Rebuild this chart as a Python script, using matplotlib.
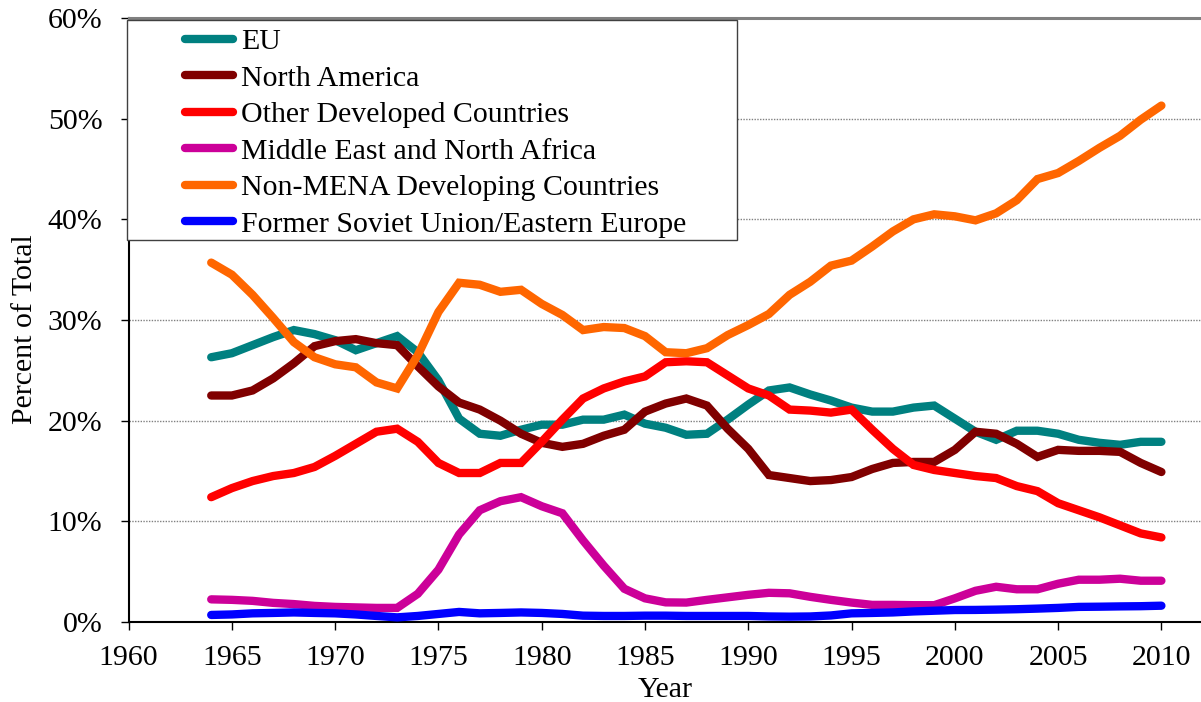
import matplotlib
matplotlib.use("Agg")
import matplotlib.pyplot as plt
from matplotlib.patches import Rectangle
from matplotlib.ticker import FuncFormatter

years = list(range(1964, 2011))

eu = [26.3, 26.7, 27.5, 28.3, 29.0, 28.6, 28.0, 27.0, 27.7, 28.4,
      26.8, 24.0, 20.2, 18.7, 18.5, 19.1, 19.6, 19.6, 20.1, 20.1,
      20.6, 19.7, 19.3, 18.6, 18.7, 20.1, 21.6, 23.0, 23.3, 22.6,
      22.0, 21.3, 20.9, 20.9, 21.3, 21.5, 20.2, 18.9, 18.1, 19.0,
      19.0, 18.7, 18.1, 17.8, 17.6, 17.9, 17.9]

north_america = [22.5, 22.5, 23.0, 24.2, 25.7, 27.4, 27.9, 28.1, 27.7, 27.5,
                 25.4, 23.4, 21.8, 21.1, 20.0, 18.7, 17.8, 17.4, 17.7, 18.5,
                 19.1, 20.9, 21.7, 22.2, 21.5, 19.2, 17.2, 14.6, 14.3, 14.0,
                 14.1, 14.4, 15.2, 15.8, 15.9, 15.9, 17.1, 18.9, 18.7, 17.7,
                 16.4, 17.1, 17.0, 17.0, 16.9, 15.8, 14.9]

other_developed = [12.4, 13.3, 14.0, 14.5, 14.8, 15.4, 16.5, 17.7, 18.9, 19.2,
                   17.9, 15.8, 14.8, 14.8, 15.8, 15.8, 17.9, 20.1, 22.2, 23.2,
                   23.9, 24.4, 25.8, 25.9, 25.8, 24.5, 23.2, 22.5, 21.1, 21.0,
                   20.8, 21.1, 19.1, 17.2, 15.6, 15.1, 14.8, 14.5, 14.3, 13.5,
                   13.0, 11.8, 11.1, 10.4, 9.6, 8.8, 8.4]

mena = [2.25, 2.2, 2.1, 1.9, 1.78, 1.6, 1.5, 1.45, 1.4, 1.4,
        2.8, 5.2, 8.7, 11.1, 12.0, 12.4, 11.5, 10.8, 8.1, 5.6,
        3.3, 2.35, 1.95, 1.93, 2.2, 2.45, 2.7, 2.9, 2.85, 2.5,
        2.2, 1.93, 1.7, 1.7, 1.67, 1.67, 2.35, 3.1, 3.5, 3.25,
        3.25, 3.8, 4.2, 4.2, 4.3, 4.1, 4.1]

non_mena = [35.7, 34.5, 32.5, 30.2, 27.8, 26.3, 25.6, 25.3, 23.8, 23.2,
            26.5, 30.8, 33.7, 33.5, 32.8, 33.0, 31.6, 30.5, 29.0, 29.3,
            29.2, 28.4, 26.8, 26.7, 27.2, 28.5, 29.5, 30.6, 32.5, 33.8,
            35.4, 35.9, 37.3, 38.8, 40.0, 40.5, 40.3, 39.9, 40.6, 41.9,
            44.0, 44.6, 45.8, 47.1, 48.3, 49.9, 51.3]

fsu = [0.7, 0.75, 0.86, 0.9, 0.95, 0.9, 0.86, 0.75, 0.6, 0.46,
       0.6, 0.8, 1.0, 0.86, 0.9, 0.95, 0.9, 0.8, 0.63, 0.6,
       0.6, 0.63, 0.63, 0.6, 0.6, 0.6, 0.6, 0.55, 0.53, 0.55,
       0.65, 0.86, 0.9, 0.95, 1.05, 1.12, 1.19, 1.2, 1.23, 1.27,
       1.33, 1.4, 1.5, 1.52, 1.55, 1.57, 1.62]

series_names = ["EU", "North America", "Other Developed Countries",
                "Middle East and North Africa", "Non-MENA Developing Countries",
                "Former Soviet Union/Eastern Europe"]
series_values = [eu, north_america, other_developed, mena, non_mena, fsu]
series_colors = ["#008080", "#800000", "#FF0000", "#CC0099", "#FF6600", "#0000FF"]

y_ticks = [0, 10, 20, 30, 40, 50, 60]
x_ticks = list(range(1960, 2011, 5))

plt.rcParams['font.family'] = ['Liberation Serif', 'DejaVu Serif']
FS = 21.5

W, H = 1201, 702
fig = plt.figure(figsize=(W / 100, H / 100), dpi=100)
left_px, right_px, top_px, bot_px = 128.6, 1201, 18, 622
ax = fig.add_axes([left_px / W, (H - bot_px) / H, (right_px - left_px) / W, (bot_px - top_px) / H])

px_per_year = (1161.4 - 128.6) / 50.0
ax.set_xlim(1960, 1960 + (right_px - left_px) / px_per_year)
ax.set_ylim(0, 60)

for name, vals, col in zip(series_names, series_values, series_colors):
    ax.plot(years, vals, color=col, lw=6.0, label=name,
            solid_capstyle='round', solid_joinstyle='miter', zorder=3)

ax.set_yticks(y_ticks)
ax.yaxis.set_major_formatter(FuncFormatter(lambda v, p: f"{int(v)}%"))
ax.set_xticks(x_ticks)
ax.tick_params(axis='both', direction='out', length=5.8, width=1, colors='#000000',
               labelsize=FS)
ax.tick_params(axis='y', pad=13)
ax.tick_params(axis='x', pad=11)
for t in ax.get_xticklines():
    t.set_color('#555555')

ax.grid(axis='y', color='#808080', lw=1.0, linestyle=(0, (1, 1)))
ax.set_axisbelow(True)

ax.spines['right'].set_visible(False)
ax.spines['top'].set_color('#808080')
ax.spines['top'].set_linewidth(2.2)
ax.spines['left'].set_linewidth(1.5)
ax.spines['bottom'].set_linewidth(1.5)

ax.set_ylabel("Percent of Total", fontsize=FS)
ax.yaxis.set_label_coords(-(128.6 - 22 - 16) / (right_px - left_px), 0.5 - 9 / 604)
ax.set_xlabel("Year", fontsize=FS, labelpad=4)

# legend box
box = Rectangle((127 / W, (H - 240) / H), (737 - 127) / W, (240 - 20) / H,
                transform=fig.transFigure, facecolor='white', edgecolor='#404040',
                lw=1.0, zorder=5, clip_on=False)
ax.add_patch(box)
leg = ax.legend(loc='upper left', bbox_to_anchor=(185 / W, (H - 28.5) / H),
                bbox_transform=fig.transFigure, frameon=False, fontsize=FS,
                handlelength=1.6, handletextpad=0.28, labelspacing=0.32,
                borderpad=0.0, borderaxespad=0.0)
leg.set_zorder(6)

fig.savefig("out.png", dpi=100)
